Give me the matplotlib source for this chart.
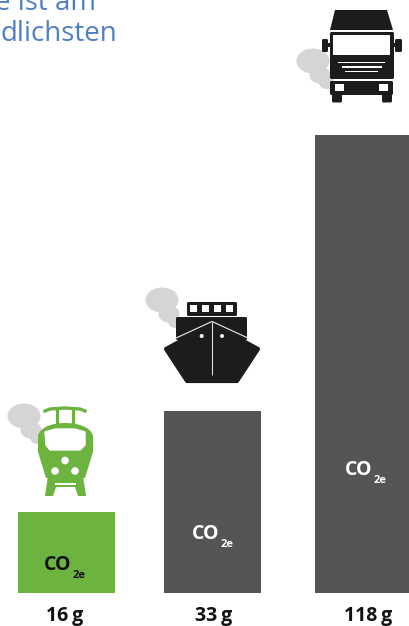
import matplotlib
matplotlib.use("Agg")
import matplotlib.pyplot as plt
from matplotlib.patches import Ellipse, Polygon, Rectangle, FancyBboxPatch, Circle, PathPatch
from matplotlib.path import Path

# bars are drawn in pixel units, the heights are not to scale with the grams
labels = ["16\u2009g", "33\u2009g", "118\u2009g"]
bar_heights = [81, 182, 458]
bar_colors = ["#6db33f", "#555555", "#555555"]
bar_centers = [66.5, 212.5, 363.5]
co2_colors = ["#111111", "white", "white"]
co2_baselines = [570, 539, 475]
co2_offsets = [-22.5, -20.5, -18.5]
label_offsets = [-2, 1.5, 4.5]

GREEN = "#6db33f"
DARK = "#1c1c1c"
SMOKE = "#d5d5d5"
BLUE = "#4f7fc2"
BASE = 593

plt.rcParams["font.family"] = ["Open Sans", "DejaVu Sans"]

fig = plt.figure(figsize=(4.09, 6.26), dpi=100)
ax = fig.add_axes([0, 0, 1, 1])
ax.set_xlim(0, 409)
ax.set_ylim(626, 0)
ax.axis("off")


def smoke(x, y):
    ax.add_patch(Ellipse((x, y), 33, 25, color=SMOKE, lw=0))
    ax.add_patch(Ellipse((x + 7, y + 14), 21, 17, color=SMOKE, lw=0))
    ax.add_patch(Ellipse((x + 14, y + 22), 16, 12, color=SMOKE, lw=0))


def rbox(x0, y0, x1, y1, color, r=1.5):
    ax.add_patch(FancyBboxPatch((x0 + r, y0 + r), x1 - x0 - 2 * r, y1 - y0 - 2 * r,
                                boxstyle="round,pad=%s,rounding_size=%s" % (r, r), color=color, lw=0))


def truck():
    smoke(313, 61)
    ax.add_patch(Polygon([(335, 10), (387, 10), (393, 30), (330, 30)], color=DARK, lw=0))
    rbox(330, 32, 394, 79, DARK)
    rbox(333, 35, 390, 55, "white", 0.5)
    rbox(322, 39, 328, 52, DARK)
    rbox(395, 39, 402, 52, DARK)
    ax.add_patch(Rectangle((327, 43), 4, 4, color=DARK, lw=0))
    ax.add_patch(Rectangle((393, 43), 4, 4, color=DARK, lw=0))
    for x0, x1, y in [(338, 385, 61.5), (342, 382, 66), (345, 378, 70.5)]:
        ax.add_patch(Rectangle((x0, y), x1 - x0, 1.8, color="white", lw=0))
    rbox(330, 81, 393, 95, DARK)
    rbox(332, 90, 342, 102.5, DARK)
    rbox(382, 90, 392, 102.5, DARK)
    ax.add_patch(Rectangle((335, 84), 9, 6.5, color="white", lw=0))
    ax.add_patch(Rectangle((379, 84), 9, 6.5, color="white", lw=0))


def ship():
    smoke(162, 300)
    rbox(187, 302, 237, 316, DARK)
    for x in [190, 202, 214, 226]:
        ax.add_patch(Rectangle((x, 305), 7, 6.5, color="white", lw=0))
    rbox(176, 317, 247, 340, DARK)
    ax.add_patch(Polygon([(166, 349), (212, 324), (258, 349), (237, 381), (187, 381)],
                         facecolor=DARK, edgecolor=DARK, lw=3, joinstyle="round"))
    ax.plot([175, 212, 249], [338.5, 321.5, 338.5], color="#eeeeee", lw=0.8, solid_capstyle="butt")
    ax.plot([212, 212], [322, 375], color="#dddddd", lw=0.8, solid_capstyle="butt")
    ax.add_patch(Circle((201.7, 336), 2, color="white", lw=0))
    ax.add_patch(Circle((222, 336), 2, color="white", lw=0))


def train():
    smoke(24, 416)
    ax.plot([45, 50, 65, 80, 85], [411, 409, 408, 409, 411], color=GREEN, lw=2.4)
    ax.plot([57, 57], [409, 426], color=GREEN, lw=2.2)
    ax.plot([73, 73], [409, 426], color=GREEN, lw=2.2)
    # body with curved roof
    verts = [(38, 436), (40, 427), (52, 423), (65, 423), (78, 423), (91, 427), (93, 436),
             (93, 452), (85, 478), (46, 478), (38, 452), (38, 436)]
    codes = [Path.MOVETO, Path.CURVE4, Path.CURVE4, Path.CURVE4, Path.CURVE4, Path.CURVE4, Path.CURVE4,
             Path.LINETO, Path.LINETO, Path.LINETO, Path.LINETO, Path.CLOSEPOLY]
    ax.add_patch(PathPatch(Path(verts, codes), color=GREEN, lw=0))
    ax.add_patch(Polygon([(45, 432), (55, 429), (75, 429), (85, 432), (85, 445), (80, 450),
                          (50, 450), (46, 445)], facecolor="white", edgecolor="white", lw=1,
                         joinstyle="round"))
    for x, y in [(65, 460.5), (55, 471), (75, 471)]:
        ax.add_patch(Circle((x, y), 3.8, color="white", lw=0))
    ax.add_patch(Polygon([(48, 476), (83, 476), (86, 496), (78, 496), (75, 487),
                          (56, 487), (53, 496), (45, 496)], color=GREEN, lw=0))
    ax.add_patch(Rectangle((55, 483), 21, 2, color="white", lw=0))


# bars go upwards from the common baseline, y axis is inverted
ax.bar(bar_centers, [-h for h in bar_heights], width=97, bottom=BASE, color=bar_colors, linewidth=0)

for cx, col, yb, off in zip(bar_centers, co2_colors, co2_baselines, co2_offsets):
    ax.text(cx + off, yb, "CO", color=col, fontsize=14, fontweight="bold", va="baseline", ha="left")
    ax.text(cx + off + 29, yb + 8, "2e", color=col, fontsize=8, fontweight="bold", va="baseline", ha="left")

for cx, lab, dx in zip(bar_centers, labels, label_offsets):
    ax.text(cx + dx, 621, lab, color="#111111", fontsize=14, fontweight="bold", ha="center", va="baseline")

truck()
ship()
train()

ax.text(-5, 10, "e ist am", color=BLUE, fontsize=20, va="baseline", ha="left")
ax.text(1, 41, "dlichsten", color=BLUE, fontsize=20, va="baseline", ha="left")

fig.savefig("out.png", dpi=100)
